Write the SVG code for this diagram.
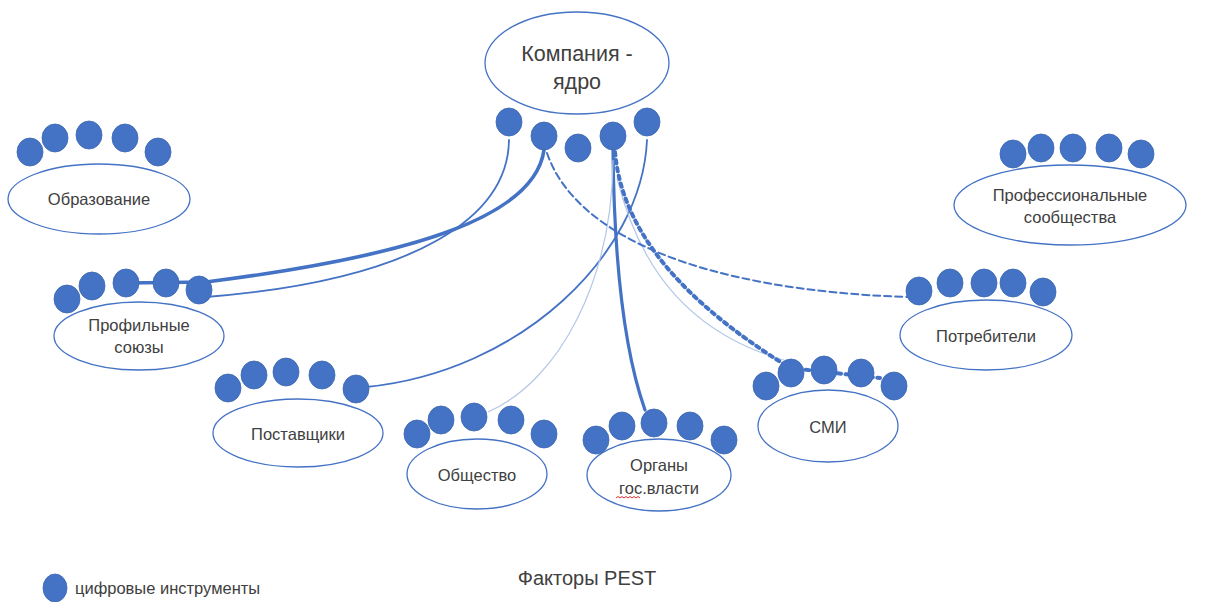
<svg xmlns="http://www.w3.org/2000/svg" width="1211" height="602" viewBox="0 0 1211 602">
<style>
.bg{fill:#ffffff}
.el{fill:#ffffff;stroke:#4472c4;stroke-width:1.3}
.dot{fill:#4472c4;stroke:#3e68b3;stroke-width:0.8}
.t{font-family:"Liberation Sans","DejaVu Sans",sans-serif;fill:#404040;text-anchor:middle;dominant-baseline:central}
.n{font-size:16.5px}
.c{fill:none;stroke:#4472c4;stroke-linecap:round}
</style>
<rect class="bg" x="0" y="0" width="1211" height="602"/>
<g id="connectors">
  <path class="c" d="M509,140 C508,215 420,280 206,297" stroke-width="1.8"/>
  <path class="c" d="M544,150 C535,215 420,255 206,282 L126,283" stroke-width="3.6"/>
  <path class="c" d="M647,140 C642,255 520,372 366,387" stroke-width="1.8"/>
  <path class="c" d="M613,150 C614,250 622,345 645,410" stroke-width="3.2"/>
  <path d="M617,178 C640,270 690,335 790,362" fill="none" stroke="#b4c7e7" stroke-width="1.2"/>
  <path class="c" d="M615,152 C622,230 680,300 790,368 L880,378" stroke-width="4" stroke-dasharray="3.5 4.5" stroke-linecap="butt"/>
  <path d="M613,160 C612,280 560,380 488,412" fill="none" stroke="#b4c7e7" stroke-width="1.2"/>
  <path class="c" d="M547,153 C575,235 700,290 907,297" stroke-width="2" stroke-dasharray="7 4" stroke-linecap="butt"/>
</g>
<g id="node-company">
  <ellipse class="el" cx="577" cy="63" rx="92" ry="51"/>
  <text class="t" x="577" y="54" font-size="21.5">Компания -</text>
  <text class="t" x="577" y="82" font-size="21.5">ядро</text>
  <ellipse class="dot" cx="509" cy="122" rx="13" ry="14"/>
  <ellipse class="dot" cx="544" cy="136" rx="13" ry="14"/>
  <ellipse class="dot" cx="578" cy="148" rx="13" ry="14"/>
  <ellipse class="dot" cx="613" cy="136" rx="13" ry="14"/>
  <ellipse class="dot" cx="647" cy="122" rx="13" ry="14"/>
</g>
<g id="node-education">
  <ellipse class="el" cx="99" cy="199" rx="91" ry="35"/>
  <text class="t n" x="99" y="199">Образование</text>
  <ellipse class="dot" cx="30" cy="152" rx="13" ry="14"/>
  <ellipse class="dot" cx="55" cy="138" rx="13" ry="14"/>
  <ellipse class="dot" cx="89" cy="135" rx="13" ry="14"/>
  <ellipse class="dot" cx="125" cy="138" rx="13" ry="14"/>
  <ellipse class="dot" cx="158" cy="152" rx="13" ry="14"/>
</g>
<g id="node-unions">
  <ellipse class="el" cx="139" cy="336" rx="85" ry="34"/>
  <text class="t n" x="139" y="325">Профильные</text>
  <text class="t n" x="139" y="347">союзы</text>
  <ellipse class="dot" cx="67" cy="299" rx="13" ry="14"/>
  <ellipse class="dot" cx="92" cy="286" rx="13" ry="14"/>
  <ellipse class="dot" cx="126" cy="283" rx="13" ry="14"/>
  <ellipse class="dot" cx="166" cy="283" rx="13" ry="14"/>
  <ellipse class="dot" cx="199" cy="290" rx="13" ry="14"/>
</g>
<g id="node-suppliers">
  <ellipse class="el" cx="298" cy="433" rx="85" ry="34"/>
  <text class="t n" x="298" y="434">Поставщики</text>
  <ellipse class="dot" cx="228" cy="388" rx="13" ry="14"/>
  <ellipse class="dot" cx="254" cy="375" rx="13" ry="14"/>
  <ellipse class="dot" cx="286" cy="372" rx="13" ry="14"/>
  <ellipse class="dot" cx="322" cy="375" rx="13" ry="14"/>
  <ellipse class="dot" cx="356" cy="389" rx="13" ry="14"/>
</g>
<g id="node-society">
  <ellipse class="el" cx="477" cy="474" rx="70" ry="35"/>
  <text class="t n" x="477" y="475">Общество</text>
  <ellipse class="dot" cx="417" cy="434" rx="13" ry="14"/>
  <ellipse class="dot" cx="441" cy="420" rx="13" ry="14"/>
  <ellipse class="dot" cx="474" cy="417" rx="13" ry="14"/>
  <ellipse class="dot" cx="511" cy="420" rx="13" ry="14"/>
  <ellipse class="dot" cx="544" cy="434" rx="13" ry="14"/>
</g>
<g id="node-government">
  <ellipse class="el" cx="659" cy="475" rx="72" ry="36"/>
  <text class="t n" x="659" y="465">Органы</text>
  <text class="t n" x="659" y="488">гос.власти</text>
  <path d="M616,498 l2,-1.5 l2,1.5 l2,-1.5 l2,1.5 l2,-1.5 l2,1.5 l2,-1.5 l2,1.5 l2,-1.5 l2,1.5 l2,-1.5 l2,1.5" fill="none" stroke="#e03030" stroke-width="1"/>
  <ellipse class="dot" cx="596" cy="440" rx="13" ry="14"/>
  <ellipse class="dot" cx="622" cy="426" rx="13" ry="14"/>
  <ellipse class="dot" cx="654" cy="423" rx="13" ry="14"/>
  <ellipse class="dot" cx="690" cy="426" rx="13" ry="14"/>
  <ellipse class="dot" cx="724" cy="440" rx="13" ry="14"/>
</g>
<g id="node-media">
  <ellipse class="el" cx="828" cy="426" rx="70" ry="36"/>
  <text class="t n" x="828" y="427">СМИ</text>
  <ellipse class="dot" cx="766" cy="386" rx="13" ry="14"/>
  <ellipse class="dot" cx="791" cy="373" rx="13" ry="14"/>
  <ellipse class="dot" cx="824" cy="370" rx="13" ry="14"/>
  <ellipse class="dot" cx="861" cy="373" rx="13" ry="14"/>
  <ellipse class="dot" cx="894" cy="386" rx="13" ry="14"/>
</g>
<g id="node-consumers">
  <ellipse class="el" cx="986" cy="335" rx="86" ry="35"/>
  <text class="t n" x="986" y="336">Потребители</text>
  <ellipse class="dot" cx="919" cy="291" rx="13" ry="14"/>
  <ellipse class="dot" cx="950" cy="283" rx="13" ry="14"/>
  <ellipse class="dot" cx="984" cy="283" rx="13" ry="14"/>
  <ellipse class="dot" cx="1013" cy="283" rx="13" ry="14"/>
  <ellipse class="dot" cx="1043" cy="292" rx="13" ry="14"/>
</g>
<g id="node-professional">
  <ellipse class="el" cx="1070" cy="205" rx="116" ry="40"/>
  <text class="t n" x="1070" y="195">Профессиональные</text>
  <text class="t n" x="1070" y="217">сообщества</text>
  <ellipse class="dot" cx="1013" cy="154" rx="13" ry="14"/>
  <ellipse class="dot" cx="1041" cy="148" rx="13" ry="14"/>
  <ellipse class="dot" cx="1073" cy="148" rx="13" ry="14"/>
  <ellipse class="dot" cx="1109" cy="148" rx="13" ry="14"/>
  <ellipse class="dot" cx="1141" cy="154" rx="13" ry="14"/>
</g>
<g id="legend">
  <ellipse class="dot" cx="55" cy="588" rx="12" ry="14"/>
  <text class="t" x="75" y="588" font-size="16.5" style="text-anchor:start">цифровые инструменты</text>
  <text class="t" x="587" y="578" font-size="20">Факторы PEST</text>
</g>
</svg>
